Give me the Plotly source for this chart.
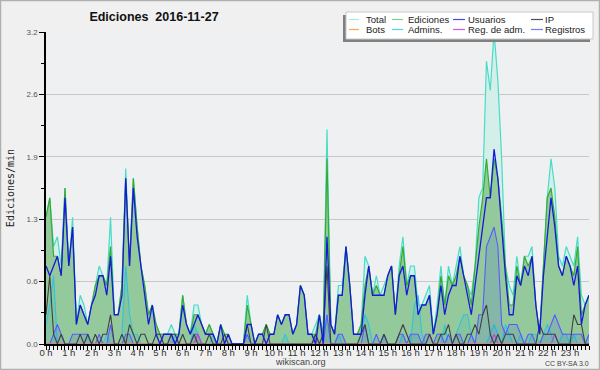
import plotly.graph_objects as go

# ---------------- data (10-minute steps, edits per minute) ----------------
times = [f"{h:02d}:{m:02d}" for h in range(24) for m in range(0, 60, 10)]
hour_ticks = list(range(24))
hour_labels = [f"{h} h" for h in hour_ticks]
y_ticks = [0.0, 0.64, 1.28, 1.92, 2.56, 3.2]
y_labels = ["0.0", "0.6", "1.3", "1.9", "2.6", "3.2"]

total = [
    1.3, 1.5, 1.0, 1.1, 0.8, 1.6,
    0.8, 1.3, 0.2, 0.5, 0.4, 0.2,
    0.4, 0.6, 0.8, 0.7, 0.6, 1.3,
    0.3, 0.3, 0.6, 1.8, 0.8, 1.7,
    1.2, 0.8, 0.6, 0.3, 0.4, 0.2,
    0.1, 0.1, 0.1, 0.2, 0.1, 0.1,
    0.5, 0.2, 0.1, 0.4, 0.4, 0.2,
    0.1, 0.2, 0.1, 0.0, 0.2, 0.1,
    0.1, 0.0, 0.0, 0.0, 0.0, 0.5,
    0.2, 0.0, 0.1, 0.1, 0.2, 0.1,
    0.1, 0.3, 0.2, 0.3, 0.3, 0.1,
    0.2, 0.6, 0.5, 0.1, 0.1, 0.2,
    0.3, 0.1, 2.2, 0.2, 0.1, 0.6,
    0.6, 1.0, 0.6, 0.1, 0.1, 0.2,
    0.9, 0.8, 0.5, 0.7, 0.5, 0.6,
    0.7, 0.8, 0.3, 0.8, 1.1, 0.6,
    0.8, 0.8, 0.4, 0.4, 0.5, 0.6,
    0.1, 0.4, 0.8, 0.4, 0.8, 0.6,
    0.8, 1.0, 0.7, 0.6, 0.5, 0.8,
    1.5, 1.6, 2.9, 2.6, 3.2, 2.7,
    1.9, 0.8, 0.6, 0.5, 0.9, 0.6,
    0.9, 0.9, 1.0, 0.4, 0.1, 0.8,
    1.5, 1.9, 1.6, 0.9, 0.8, 1.0,
    0.9, 0.8, 1.1, 0.5, 0.4, 0.5,
]
ediciones = [
    1.3, 1.5, 0.9, 0.9, 0.7, 1.6,
    0.8, 1.2, 0.2, 0.4, 0.3, 0.2,
    0.4, 0.6, 0.7, 0.7, 0.6, 1.0,
    0.3, 0.3, 0.6, 1.7, 0.8, 1.7,
    1.2, 0.8, 0.6, 0.3, 0.4, 0.2,
    0.1, 0.1, 0.1, 0.1, 0.1, 0.1,
    0.5, 0.2, 0.1, 0.3, 0.3, 0.2,
    0.1, 0.2, 0.1, 0.0, 0.2, 0.1,
    0.1, 0.0, 0.0, 0.0, 0.0, 0.4,
    0.2, 0.0, 0.1, 0.1, 0.2, 0.1,
    0.1, 0.3, 0.2, 0.3, 0.3, 0.1,
    0.2, 0.6, 0.5, 0.1, 0.1, 0.1,
    0.3, 0.1, 1.9, 0.2, 0.1, 0.5,
    0.5, 1.0, 0.6, 0.1, 0.1, 0.2,
    0.6, 0.8, 0.5, 0.6, 0.5, 0.5,
    0.7, 0.8, 0.3, 0.7, 1.0, 0.6,
    0.7, 0.7, 0.3, 0.4, 0.4, 0.5,
    0.1, 0.3, 0.7, 0.4, 0.7, 0.6,
    0.7, 0.9, 0.7, 0.6, 0.4, 0.8,
    1.2, 1.5, 1.9, 1.5, 1.9, 1.7,
    1.3, 0.8, 0.4, 0.4, 0.8, 0.6,
    0.9, 0.8, 0.9, 0.4, 0.1, 0.8,
    1.5, 1.6, 1.3, 0.8, 0.7, 0.9,
    0.8, 0.7, 1.0, 0.3, 0.4, 0.5,
]
usuarios = [
    0.8, 0.7, 0.8, 0.9, 0.7, 1.5,
    0.8, 1.2, 0.2, 0.4, 0.3, 0.2,
    0.4, 0.5, 0.7, 0.7, 0.5, 0.9,
    0.3, 0.3, 0.5, 1.7, 0.8, 1.6,
    1.1, 0.8, 0.5, 0.2, 0.4, 0.1,
    0.0, 0.1, 0.1, 0.1, 0.0, 0.1,
    0.4, 0.2, 0.1, 0.2, 0.3, 0.2,
    0.1, 0.1, 0.1, 0.0, 0.2, 0.0,
    0.1, 0.0, 0.0, 0.0, 0.0, 0.2,
    0.2, 0.0, 0.1, 0.1, 0.0, 0.1,
    0.1, 0.3, 0.2, 0.3, 0.3, 0.1,
    0.2, 0.6, 0.5, 0.1, 0.1, 0.0,
    0.3, 0.0, 1.1, 0.2, 0.1, 0.5,
    0.5, 1.0, 0.6, 0.1, 0.1, 0.1,
    0.5, 0.8, 0.5, 0.5, 0.5, 0.5,
    0.7, 0.8, 0.3, 0.7, 0.8, 0.5,
    0.7, 0.7, 0.3, 0.4, 0.4, 0.5,
    0.1, 0.3, 0.6, 0.3, 0.5, 0.6,
    0.6, 0.9, 0.7, 0.5, 0.3, 0.6,
    0.9, 1.2, 1.5, 1.5, 2.0, 1.7,
    1.2, 0.7, 0.3, 0.3, 0.7, 0.6,
    0.8, 0.7, 0.9, 0.4, 0.1, 0.7,
    1.1, 1.5, 1.2, 0.8, 0.7, 0.9,
    0.8, 0.6, 0.8, 0.2, 0.4, 0.5,
]
ip = [
    0.3, 0.7, 0.1, 0.0, 0.1, 0.0,
    0.0, 0.0, 0.0, 0.1, 0.0, 0.1,
    0.0, 0.1, 0.0, 0.1, 0.1, 0.3,
    0.0, 0.0, 0.1, 0.0, 0.2, 0.1,
    0.0, 0.1, 0.1, 0.0, 0.0, 0.1,
    0.1, 0.0, 0.0, 0.1, 0.1, 0.0,
    0.1, 0.0, 0.0, 0.1, 0.0, 0.0,
    0.0, 0.1, 0.0, 0.0, 0.0, 0.1,
    0.0, 0.0, 0.0, 0.0, 0.0, 0.2,
    0.0, 0.0, 0.0, 0.0, 0.2, 0.0,
    0.0, 0.0, 0.0, 0.0, 0.0, 0.0,
    0.0, 0.0, 0.0, 0.0, 0.0, 0.1,
    0.0, 0.1, 0.8, 0.0, 0.0, 0.0,
    0.0, 0.0, 0.0, 0.0, 0.0, 0.1,
    0.2, 0.0, 0.0, 0.0, 0.0, 0.1,
    0.0, 0.0, 0.0, 0.1, 0.2, 0.1,
    0.0, 0.0, 0.0, 0.0, 0.0, 0.1,
    0.0, 0.0, 0.1, 0.1, 0.2, 0.0,
    0.1, 0.0, 0.0, 0.1, 0.1, 0.2,
    0.1, 0.3, 0.4, 0.1, 0.0, 0.1,
    0.0, 0.1, 0.1, 0.1, 0.0, 0.0,
    0.0, 0.0, 0.0, 0.0, 0.2, 0.1,
    0.1, 0.1, 0.1, 0.0, 0.0, 0.0,
    0.0, 0.3, 0.2, 0.2, 0.0, 0.0,
]
bots = [
    0.0, 0.0, 0.0, 0.0, 0.0, 0.0,
    0.0, 0.0, 0.0, 0.0, 0.0, 0.0,
    0.0, 0.0, 0.0, 0.0, 0.0, 0.0,
    0.0, 0.0, 0.0, 0.0, 0.0, 0.0,
    0.0, 0.0, 0.0, 0.0, 0.0, 0.0,
    0.0, 0.0, 0.0, 0.0, 0.0, 0.0,
    0.0, 0.0, 0.0, 0.0, 0.0, 0.0,
    0.0, 0.0, 0.0, 0.0, 0.0, 0.0,
    0.0, 0.0, 0.0, 0.0, 0.0, 0.0,
    0.0, 0.0, 0.0, 0.0, 0.0, 0.0,
    0.0, 0.0, 0.0, 0.0, 0.0, 0.0,
    0.0, 0.0, 0.0, 0.0, 0.0, 0.0,
    0.0, 0.0, 0.0, 0.0, 0.0, 0.0,
    0.0, 0.0, 0.0, 0.0, 0.0, 0.0,
    0.0, 0.0, 0.0, 0.0, 0.0, 0.0,
    0.0, 0.0, 0.0, 0.0, 0.0, 0.0,
    0.0, 0.0, 0.0, 0.0, 0.0, 0.0,
    0.0, 0.0, 0.0, 0.0, 0.0, 0.0,
    0.0, 0.0, 0.0, 0.0, 0.0, 0.0,
    0.0, 0.0, 0.0, 0.0, 0.0, 0.0,
    0.0, 0.0, 0.0, 0.0, 0.0, 0.0,
    0.0, 0.0, 0.0, 0.0, 0.0, 0.0,
    0.0, 0.0, 0.0, 0.0, 0.0, 0.0,
    0.0, 0.0, 0.0, 0.0, 0.0, 0.0,
]
admins = [
    0.2, 0.4, 0.7, 0.0, 0.0, 0.0,
    0.0, 0.0, 0.0, 0.0, 0.0, 0.1,
    0.0, 0.0, 0.0, 0.0, 0.1, 0.0,
    0.0, 0.0, 0.1, 0.8, 0.3, 0.1,
    0.1, 0.0, 0.0, 0.0, 0.0, 0.0,
    0.0, 0.0, 0.0, 0.0, 0.1, 0.0,
    0.0, 0.0, 0.0, 0.2, 0.1, 0.0,
    0.0, 0.0, 0.1, 0.0, 0.0, 0.0,
    0.0, 0.0, 0.0, 0.0, 0.0, 0.1,
    0.0, 0.0, 0.0, 0.0, 0.0, 0.0,
    0.0, 0.0, 0.0, 0.1, 0.0, 0.0,
    0.0, 0.0, 0.0, 0.0, 0.0, 0.0,
    0.0, 0.1, 0.3, 0.0, 0.0, 0.1,
    0.0, 0.0, 0.0, 0.0, 0.0, 0.1,
    0.3, 0.2, 0.0, 0.0, 0.0, 0.1,
    0.0, 0.0, 0.0, 0.0, 0.1, 0.0,
    0.0, 0.4, 0.5, 0.1, 0.0, 0.0,
    0.0, 0.0, 0.0, 0.2, 0.0, 0.0,
    0.1, 0.2, 0.3, 0.3, 0.1, 0.0,
    0.0, 0.0, 0.0, 0.1, 0.2, 0.1,
    0.0, 0.2, 0.1, 0.0, 0.0, 0.1,
    0.0, 0.0, 0.1, 0.1, 0.0, 0.1,
    0.2, 0.1, 0.0, 0.0, 0.1, 0.1,
    0.0, 0.1, 0.0, 0.0, 0.0, 0.1,
]
reg_adm = [
    0.0, 0.0, 0.0, 0.0, 0.0, 0.0,
    0.0, 0.0, 0.0, 0.0, 0.0, 0.0,
    0.0, 0.0, 0.0, 0.0, 0.0, 0.0,
    0.0, 0.0, 0.0, 0.0, 0.0, 0.0,
    0.0, 0.0, 0.0, 0.0, 0.0, 0.0,
    0.0, 0.0, 0.0, 0.0, 0.0, 0.0,
    0.0, 0.0, 0.0, 0.0, 0.1, 0.0,
    0.0, 0.0, 0.0, 0.0, 0.0, 0.0,
    0.0, 0.0, 0.0, 0.0, 0.0, 0.0,
    0.0, 0.0, 0.0, 0.0, 0.0, 0.0,
    0.0, 0.0, 0.0, 0.0, 0.0, 0.0,
    0.0, 0.0, 0.0, 0.0, 0.0, 0.0,
    0.0, 0.0, 0.0, 0.0, 0.0, 0.0,
    0.0, 0.0, 0.0, 0.0, 0.0, 0.0,
    0.0, 0.0, 0.0, 0.0, 0.0, 0.0,
    0.0, 0.0, 0.0, 0.0, 0.0, 0.0,
    0.0, 0.0, 0.0, 0.0, 0.0, 0.1,
    0.0, 0.0, 0.0, 0.0, 0.0, 0.0,
    0.0, 0.0, 0.0, 0.0, 0.0, 0.0,
    0.0, 0.0, 0.0, 0.0, 0.1, 0.0,
    0.0, 0.0, 0.0, 0.0, 0.0, 0.0,
    0.0, 0.0, 0.0, 0.0, 0.0, 0.0,
    0.0, 0.0, 0.1, 0.0, 0.0, 0.0,
    0.0, 0.0, 0.0, 0.0, 0.0, 0.0,
]
registros = [
    0.0, 0.0, 0.1, 0.2, 0.1, 0.0,
    0.0, 0.1, 0.1, 0.1, 0.1, 0.1,
    0.0, 0.0, 0.1, 0.0, 0.0, 0.2,
    0.0, 0.0, 0.0, 0.1, 0.1, 0.0,
    0.0, 0.0, 0.0, 0.0, 0.0, 0.0,
    0.0, 0.0, 0.0, 0.1, 0.0, 0.0,
    0.0, 0.0, 0.0, 0.1, 0.1, 0.0,
    0.0, 0.0, 0.0, 0.0, 0.0, 0.0,
    0.0, 0.0, 0.0, 0.0, 0.0, 0.1,
    0.0, 0.0, 0.0, 0.0, 0.0, 0.0,
    0.0, 0.0, 0.0, 0.0, 0.0, 0.0,
    0.0, 0.0, 0.0, 0.0, 0.0, 0.1,
    0.0, 0.0, 0.3, 0.0, 0.0, 0.1,
    0.1, 0.0, 0.0, 0.0, 0.0, 0.0,
    0.2, 0.0, 0.0, 0.1, 0.0, 0.1,
    0.0, 0.0, 0.0, 0.1, 0.1, 0.0,
    0.1, 0.1, 0.1, 0.0, 0.1, 0.1,
    0.0, 0.1, 0.1, 0.0, 0.1, 0.0,
    0.1, 0.1, 0.0, 0.0, 0.1, 0.0,
    0.3, 0.3, 1.0, 1.1, 1.2, 1.0,
    0.2, 0.1, 0.2, 0.2, 0.2, 0.1,
    0.0, 0.1, 0.1, 0.0, 0.0, 0.1,
    0.1, 0.2, 0.3, 0.2, 0.1, 0.1,
    0.1, 0.1, 0.1, 0.1, 0.0, 0.1,
]

series_names = ["Total", "Ediciones", "Usuarios", "IP",
                "Bots", "Admins.", "Reg. de adm.", "Registros"]
series_colors = ["#48dcc8", "#34ac34", "#1818dc", "#404040",
                 "#ff9a30", "#30c4dc", "#cc40dc", "#5a5aff"]
legend_colors = ["#a8e8e0", "#88d088", "#4848e0", "#505050",
                 "#ffa848", "#58d0e0", "#d058e0", "#7878f0"]

# ---------------- geometry helpers ----------------
W, H = 600, 370
ML, MR, MT, MB = 46, 11, 32, 26
PW, PH = W - ML - MR, H - MT - MB


def px(x):
    return (x - ML) / PW


def py(y):
    return (H - MB - y) / PH


x_hours = [int(t[:2]) + int(t[3:]) / 60 for t in times]

fig = go.Figure()

fig.add_trace(go.Scatter(x=x_hours, y=total, name=series_names[0], mode="lines",
                         line=dict(color=series_colors[0], width=1.2),
                         fill="tozeroy", fillcolor="#d4efe9"))
fig.add_trace(go.Scatter(x=x_hours, y=ediciones, name=series_names[1], mode="lines",
                         line=dict(color=series_colors[1], width=1.2),
                         fill="tozeroy", fillcolor="#94c99b"))
fig.add_trace(go.Scatter(x=x_hours, y=admins, name=series_names[5], mode="lines",
                         line=dict(color=series_colors[5], width=1.1),
                         fill="tozeroy", fillcolor="rgba(0,170,210,0.10)"))
fig.add_trace(go.Scatter(x=x_hours, y=registros, name=series_names[7], mode="lines",
                         line=dict(color=series_colors[7], width=1.1),
                         fill="tozeroy", fillcolor="rgba(40,60,255,0.13)"))
fig.add_trace(go.Scatter(x=x_hours, y=reg_adm, name=series_names[6], mode="lines",
                         line=dict(color=series_colors[6], width=1.1)))
fig.add_trace(go.Scatter(x=x_hours, y=bots, name=series_names[4], mode="lines",
                         line=dict(color=series_colors[4], width=1.1)))
fig.add_trace(go.Scatter(x=x_hours, y=ip, name=series_names[3], mode="lines",
                         line=dict(color=series_colors[3], width=1.1)))
fig.add_trace(go.Scatter(x=x_hours, y=usuarios, name=series_names[2], mode="lines",
                         line=dict(color=series_colors[2], width=1.3)))

# ---------------- manual legend (box with shadow) ----------------
shapes = []
annotations = []
shapes.append(dict(type="rect", xref="paper", yref="paper", layer="above",
                   x0=px(343), x1=px(590), y0=py(42), y1=py(15),
                   fillcolor="#808080", line=dict(width=0)))
shapes.append(dict(type="rect", xref="paper", yref="paper", layer="above",
                   x0=px(346), x1=px(593), y0=py(39), y1=py(12),
                   fillcolor="#ffffff", line=dict(color="#c8c8c8", width=1)))
col_line = [(349, 359), (392, 403), (453, 465), (531, 543)]
col_text = [365, 407, 467, 544]
row_y = [19.5, 29.5]
for k, name in enumerate(series_names):
    r, c = divmod(k, 4)
    yy = row_y[r]
    shapes.append(dict(type="line", xref="paper", yref="paper", layer="above",
                       x0=px(col_line[c][0]), x1=px(col_line[c][1]),
                       y0=py(yy), y1=py(yy),
                       line=dict(color=legend_colors[k], width=1.2)))
    annotations.append(dict(xref="paper", yref="paper", x=px(col_text[c]), y=py(yy),
                            text=name, showarrow=False, xanchor="left", yanchor="middle",
                            borderpad=0,
                            font=dict(family="Liberation Sans", size=9.5, color="#222222")))

# outer border
shapes.append(dict(type="rect", xref="paper", yref="paper", layer="above",
                   x0=px(0.5), x1=px(599.5), y0=py(369.5), y1=py(0.5),
                   line=dict(color="#b0b0b0", width=1.5)))

# footer texts
annotations.append(dict(xref="paper", yref="paper", x=px(300), y=py(362),
                        text="wikiscan.org", showarrow=False, xanchor="center",
                        yanchor="middle", borderpad=0,
                        font=dict(family="Liberation Sans", size=9, color="#444444")))
annotations.append(dict(xref="paper", yref="paper", x=px(590), y=py(363),
                        text="CC BY-SA 3.0", showarrow=False, xanchor="right",
                        yanchor="middle", borderpad=0,
                        font=dict(family="Liberation Sans", size=7, color="#444444")))

fig.update_layout(
    width=W, height=H,
    margin=dict(l=ML, r=MR, t=MT, b=MB, autoexpand=False),
    paper_bgcolor="#f0f0f0",
    plot_bgcolor="#eef0f2",
    showlegend=False,
    title=dict(text="Ediciones\u00a0 2016-11-27", x=154 / W, xref="container",
               xanchor="center", y=1 - 16.5 / H, yref="container", yanchor="middle",
               font=dict(family="Liberation Sans", size=12.5, color="#111111",
                         weight="bold")),
    shapes=shapes,
    annotations=annotations,
)

fig.update_xaxes(
    automargin=False,
    range=[0, x_hours[-1]],
    tickmode="array", tickvals=hour_ticks, ticktext=hour_labels,
    ticks="outside", ticklen=4, tickwidth=1, tickcolor="#000000",
    ticklabelstandoff=-5,
    minor=dict(tickmode="array",
               tickvals=x_hours,
               ticks="outside", ticklen=4, tickwidth=1, tickcolor="#000000",
               showgrid=False),
    showgrid=False, zeroline=False,
    showline=True, linecolor="#000000", linewidth=2,
    tickfont=dict(family="Liberation Sans", size=9.5, color="#333333"),
    fixedrange=True,
)
fig.update_yaxes(
    automargin=False,
    range=[0, 3.2],
    tickmode="array", tickvals=y_ticks, ticktext=y_labels,
    ticks="outside", ticklen=5, tickwidth=1, tickcolor="#000000",
    minor=dict(tickmode="array", tickvals=[0.32, 0.96, 1.6, 2.24, 2.88],
               ticks="outside", ticklen=3, tickwidth=1, tickcolor="#000000",
               showgrid=False),
    showgrid=True, gridcolor="#c8c8c8", gridwidth=1,
    zeroline=False,
    showline=True, linecolor="#000000", linewidth=1.5,
    tickfont=dict(family="Liberation Sans", size=8, color="#555555"),
    title=dict(text="Ediciones/min", standoff=10,
               font=dict(family="DejaVu Sans Mono", size=10, color="#222222")),
    fixedrange=True,
)

fig.write_html(
    "out.html",
    config={"displayModeBar": False},
    post_script="document.body.style.margin='0px';"
                "document.body.style.background='#f0f0f0';",
)
